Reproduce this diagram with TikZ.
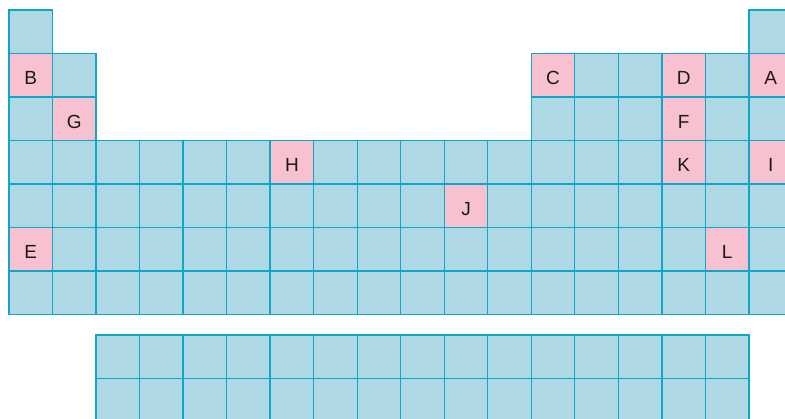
\documentclass[tikz,border=0pt]{standalone}
\usepackage{fontspec}
\setmainfont{Liberation Sans}
\usepackage{xcolor}
\usetikzlibrary{positioning}
\definecolor{cellc}{HTML}{ADD8E4}
\definecolor{gridc}{HTML}{10A6C8}
\definecolor{markc}{HTML}{F8C1CF}

\begin{document}
\begin{tikzpicture}[x=43.53pt, y=-43.53pt,
  font=\fontsize{19}{21}\selectfont,
  cell/.style={rectangle, draw=gridc, fill=cellc, line width=1.3pt,
               minimum size=43.53pt, inner sep=0pt, anchor=north west},
  markcell/.style={cell, fill=markc, text=black!90,
                   text height=18.5pt, text depth=0pt}]
\useasboundingbox (-8.3pt,9.3pt) rectangle (776.7pt,-408.7pt);
\clip (-8.3pt,9.3pt) rectangle (776.7pt,-408.7pt);
% main table
\node[cell] (c-1-1) at (0,0) {};
\node[cell] (c-1-18) at (17,0) {};
\foreach \r in {2,3} {
  \foreach \c in {1,2,13,14,15,16,17,18}
    \node[cell] (c-\r-\c) at (\c-1,\r-1) {};
}
\foreach \r in {4,...,7} {
  \foreach \c in {1,...,18}
    \node[cell] (c-\r-\c) at (\c-1,\r-1) {};
}
% lanthanides and actinides
\foreach \r in {1,2} {
  \foreach \c in {3,...,17}
    \node[cell] (f-\r-\c) at (\c-1,6.466+\r) {};
}
% marked elements
\foreach \r/\c/\t in {2/1/B, 3/2/G, 2/13/C, 2/16/D, 2/18/A, 3/16/F,
                      4/7/H, 4/16/K, 4/18/I, 5/11/J, 6/1/E, 6/17/L}
  \node[markcell] (m-\t) at (\c-1,\r-1) {\t};
\end{tikzpicture}
\end{document}
